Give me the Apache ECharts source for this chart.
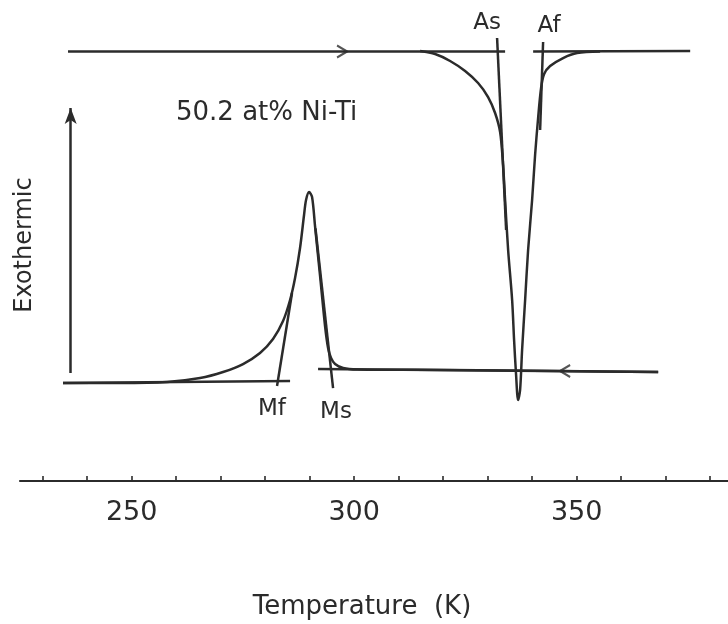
<!DOCTYPE html>
<html><head><meta charset="utf-8">
<script src="https://cdn.jsdelivr.net/npm/echarts@6/dist/echarts.min.js"></script>
<style>html,body{margin:0;padding:0;background:#fff}#c{width:728px;height:624px}</style>
</head><body><div id="c"></div>
<script>
// ---- data: temperature (K) vs relative heat flow (arbitrary units) ----
const heatingT = [314.81, 318.18, 321.55, 324.92, 327.84, 330.09, 331.66, 332.79, 333.46, 333.91, 334.59, 335.49, 335.93, 336.38, 336.83, 337.28, 337.73, 338.41, 339.08, 339.98, 340.65, 341.33, 342.00, 342.68, 344.03, 346.95, 350.09, 355.26];
const heatingQ = [89.40, 88.77, 87.32, 85.24, 82.74, 79.83, 76.51, 72.56, 65.70, 58.42, 48.02, 37.63, 29.31, 22.04, 16.84, 18.92, 27.23, 37.63, 48.02, 58.42, 67.78, 75.47, 81.70, 84.62, 86.28, 87.94, 88.98, 89.29];
const coolingT = [234.56, 247.37, 257.94, 265.36, 270.53, 275.02, 278.84, 281.76, 284.01, 285.59, 286.71, 287.83, 288.73, 289.18, 289.86, 290.53, 291.20, 292.33, 293.45, 294.13, 294.80, 295.70, 297.50, 300.65, 321.55, 346.27, 368.30];
const coolingQ = [20.37, 20.37, 20.58, 21.41, 22.66, 24.32, 26.61, 29.52, 33.26, 37.63, 42.20, 48.44, 55.30, 58.42, 60.08, 59.04, 53.01, 42.62, 32.22, 27.65, 25.57, 24.32, 23.49, 23.18, 23.08, 22.87, 22.66];
// construction lines (start, end)
const baseTopLeftT = [235.69, 333.91], baseTopLeftQ = [89.29, 89.29];
const baseTopRightT = [340.21, 375.50], baseTopRightQ = [89.29, 89.40];
const baseBotRightT = [291.88, 368.31], baseBotRightQ = [23.28, 22.66];
const baseBotLeftT = [234.56, 285.59], baseBotLeftQ = [20.37, 20.79];
const tangentAsT = [332.11, 334.14], tangentAsQ = [92.10, 52.18];
const tangentAfT = [342.45, 341.78], tangentAfQ = [91.27, 72.97];
const tangentMfT = [286.03, 282.66], tangentMfQ = [39.09, 19.75];
const tangentMsT = [291.30, 295.25], tangentMsQ = [52.50, 19.33];
const exoArrowT = [236.29, 236.29], exoArrowQ = [22.45, 77.55];
const heatDirT = [297.27], heatDirQ = [89.29];
const coolDirT = [347.40], coolDirQ = [22.87];
const xTicks = [230, 240, 250, 260, 270, 280, 290, 300, 310, 320, 330, 340, 350, 360, 370, 380];
const xLabels = [250, 300, 350];

const INK = '#2b2b2b';
const FONT = 'DejaVu Sans';
const zip = (a, b) => a.map((v, i) => [v, b[i]]);
const lineSeries = (t, q, smooth) => ({
  type: 'line', data: zip(t, q), showSymbol: false, smooth: smooth || false,
  lineStyle: { color: INK, width: 2.5 }, silent: true, animation: false
});

const chart = echarts.init(document.getElementById('c'), null, { renderer: 'canvas' });
chart.setOption({
  animation: false,
  backgroundColor: '#ffffff',
  grid: { left: 20, right: 0, top: 0, bottom: 143, containLabel: false, outerBoundsMode: 'none' },
  xAxis: {
    type: 'value', min: 224.9, max: 384.0,
    axisLine: { show: true, lineStyle: { color: INK, width: 2.2 } },
    axisTick: { show: true, inside: true, length: 5, customValues: xTicks, lineStyle: { color: INK, width: 1.6 } },
    axisLabel: { show: true, customValues: xLabels, margin: 18, fontSize: 27, color: INK, fontFamily: FONT },
    splitLine: { show: false }
  },
  yAxis: { type: 'value', min: 0, max: 100, show: false },
  series: [
    lineSeries(heatingT, heatingQ, 0.3),
    lineSeries(coolingT, coolingQ, 0.3),
    lineSeries(baseTopLeftT, baseTopLeftQ),
    lineSeries(baseTopRightT, baseTopRightQ),
    lineSeries(baseBotRightT, baseBotRightQ),
    lineSeries(baseBotLeftT, baseBotLeftQ),
    lineSeries(tangentAsT, tangentAsQ),
    lineSeries(tangentAfT, tangentAfQ),
    lineSeries(tangentMfT, tangentMfQ),
    lineSeries(tangentMsT, tangentMsQ),
    {
      type: 'line', data: [], silent: true,
      markLine: {
        silent: true, symbol: ['none', 'arrow'], symbolSize: [9, 16],
        lineStyle: { type: 'solid', color: INK, width: 2.5 }, label: { show: false },
        data: [[{ coord: [exoArrowT[0], exoArrowQ[0]] }, { coord: [exoArrowT[1], exoArrowQ[1]] }]]
      }
    },
    {
      type: 'scatter', data: zip(heatDirT, heatDirQ), silent: true,
      symbol: 'path://M0,0L10,6L0,12', symbolSize: [10, 12],
      itemStyle: { color: 'none', borderColor: INK, borderWidth: 2.2 }
    },
    {
      type: 'scatter', data: zip(coolDirT, coolDirQ), silent: true,
      symbol: 'path://M10,0L0,6L10,12', symbolSize: [10, 12],
      itemStyle: { color: 'none', borderColor: INK, borderWidth: 2.2 }
    }
  ],
  graphic: [
    { type: 'text', left: 176, top: 100, style: { text: '50.2 at% Ni-Ti', font: '26px "DejaVu Sans"', fill: INK } },
    { type: 'text', x: 487, y: 23, style: { text: 'As', font: '23px "DejaVu Sans"', fill: INK, align: 'center', verticalAlign: 'middle' } },
    { type: 'text', x: 549, y: 26, style: { text: 'Af', font: '23px "DejaVu Sans"', fill: INK, align: 'center', verticalAlign: 'middle' } },
    { type: 'text', x: 272, y: 409, style: { text: 'Mf', font: '23px "DejaVu Sans"', fill: INK, align: 'center', verticalAlign: 'middle' } },
    { type: 'text', x: 336, y: 412, style: { text: 'Ms', font: '23px "DejaVu Sans"', fill: INK, align: 'center', verticalAlign: 'middle' } },
    { type: 'text', x: 25, y: 245, rotation: Math.PI / 2, style: { text: 'Exothermic', font: '24px "DejaVu Sans"', fill: INK, align: 'center', verticalAlign: 'middle' } },
    { type: 'text', x: 362, y: 607, style: { text: 'Temperature  (K)', font: '26px "DejaVu Sans"', fill: INK, align: 'center', verticalAlign: 'middle' } }
  ]
});
</script>
</body></html>
